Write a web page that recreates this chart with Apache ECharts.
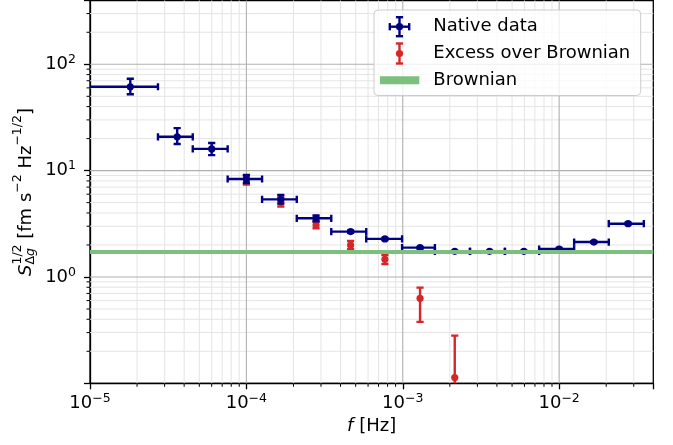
<!DOCTYPE html>
<html>
<head>
<meta charset="utf-8">
<script src="https://cdn.jsdelivr.net/npm/echarts@6/dist/echarts.min.js"></script>
<style>
  html, body { margin: 0; padding: 0; background: #fff; }
  #chart { width: 673px; height: 445px; }
</style>
</head>
<body>
<div id="chart"></div>
<script>
// Frequency bins (Hz): centre, lower edge, upper edge
const freq    = [1.81e-5, 3.61e-5, 6.0e-5, 1.0e-4, 1.66e-4, 2.79e-4, 4.64e-4, 7.69e-4, 1.29e-3, 2.15e-3, 3.59e-3, 5.95e-3, 1.0e-2, 1.667e-2, 2.76e-2];
const binLow  = [0.6e-5, 2.72e-5, 4.54e-5, 7.59e-5, 1.26e-4, 2.10e-4, 3.49e-4, 5.84e-4, 9.9e-4, 1.605e-3, 2.69e-3, 4.50e-3, 7.45e-3, 1.247e-2, 2.077e-2];
const binHigh = [2.72e-5, 4.54e-5, 7.59e-5, 1.26e-4, 2.10e-4, 3.49e-4, 5.84e-4, 9.9e-4, 1.605e-3, 2.69e-3, 4.50e-3, 7.45e-3, 1.247e-2, 2.077e-2, 3.48e-2];

// Native ASD (fm s^-2 Hz^-1/2) with lower / upper error limits
const native     = [61.5, 20.8, 16.0, 8.34, 5.37, 3.56, 2.67, 2.28, 1.886, 1.744, 1.744, 1.744, 1.833, 2.13, 3.17];
const nativeLow  = [52.2, 17.8, 14.0, 7.64, 4.89, 3.34, 2.60, 2.23, 1.85, 1.72, 1.72, 1.72, 1.80, 2.09, 3.11];
const nativeHigh = [73.1, 25.1, 18.2, 9.10, 5.90, 3.79, 2.74, 2.33, 1.92, 1.77, 1.77, 1.77, 1.87, 2.17, 3.23];

// Excess over the Brownian floor
const excessFreq = [1.0e-4, 1.66e-4, 2.79e-4, 4.64e-4, 7.69e-4, 1.29e-3, 2.15e-3];
const excess     = [8.16, 5.08, 3.08, 1.99, 1.467, 0.630, 0.1131];
const excessLow  = [7.40, 4.60, 2.87, 1.82, 1.325, 0.378, 0.05];
const excessHigh = [8.90, 5.60, 3.31, 2.18, 1.61, 0.793, 0.2807];

// Brownian noise level
const brownian = 1.744;

// Decade exponents that carry tick labels
const xTickExps = [-5, -4, -3, -2];
const yTickExps = [0, 1, 2];

const X_MIN = 1e-5, X_MAX = 0.04, Y_MIN = 0.1, Y_MAX = 398;

const NAVY = '#000080';
const RED = '#d62728';
const GREEN = '#7dbf7d';
const FONT = '"DejaVu Sans", sans-serif';

// Log grid positions: majors at decades, minors at 2..9 x decade
function logGrid(lo, hi) {
  const major = [], minor = [];
  for (let e = Math.floor(Math.log10(lo)); e <= Math.ceil(Math.log10(hi)); e++) {
    for (let m = 1; m <= 9; m++) {
      const v = m * Math.pow(10, e);
      if (v <= lo * 1.0001 || v >= hi * 0.9999) continue;
      (m === 1 ? major : minor).push(v);
    }
  }
  return { major, minor };
}
const xg = logGrid(X_MIN, X_MAX);
const yg = logGrid(Y_MIN, Y_MAX);

function expLabel(allowed) {
  return function (v) {
    const l = Math.log10(v);
    const e = Math.round(l);
    if (Math.abs(l - e) > 1e-6 || allowed.indexOf(e) < 0) return '';
    return '{b|10}{s|' + (e < 0 ? '\u2212' + (-e) : String(e)) + '}';
  };
}
const labelRich = {
  b: { fontSize: 18, lineHeight: 22, fontFamily: FONT, color: '#000' },
  s: { fontSize: 12.5, lineHeight: 14, verticalAlign: 'top', fontFamily: FONT, color: '#000' }
};

// Grid lines and minor ticks through the axis scales
function gridRender(params, api) {
  const cs = params.coordSys;
  const children = [];
  const minorStyle = { stroke: '#e4e4e4', lineWidth: 1 };
  const majorStyle = { stroke: '#b0b0b0', lineWidth: 1.1 };
  const tickStyle = { stroke: '#000', lineWidth: 1 };
  xg.minor.forEach(v => {
    const x = api.coord([v, 1])[0];
    children.push({ type: 'line', shape: { x1: x, y1: cs.y, x2: x, y2: cs.y + cs.height }, style: minorStyle });
    children.push({ type: 'line', shape: { x1: x, y1: cs.y + cs.height, x2: x, y2: cs.y + cs.height + 3.5 }, style: tickStyle });
  });
  yg.minor.forEach(v => {
    const y = api.coord([1e-4, v])[1];
    children.push({ type: 'line', shape: { x1: cs.x, y1: y, x2: cs.x + cs.width, y2: y }, style: minorStyle });
    children.push({ type: 'line', shape: { x1: cs.x - 3.5, y1: y, x2: cs.x, y2: y }, style: tickStyle });
  });
  xg.major.forEach(v => {
    const x = api.coord([v, 1])[0];
    children.push({ type: 'line', shape: { x1: x, y1: cs.y, x2: x, y2: cs.y + cs.height }, style: majorStyle });
  });
  yg.major.forEach(v => {
    const y = api.coord([1e-4, v])[1];
    children.push({ type: 'line', shape: { x1: cs.x, y1: y, x2: cs.x + cs.width, y2: y }, style: majorStyle });
  });
  return { type: 'group', children };
}

const CAP = 3.6;
const LW = 2.4;
const MR = 3.6;
function nativeRender(params, api) {
  const f = api.value(0), v = api.value(1);
  const c = api.coord([f, v]);
  const l = api.coord([api.value(2), v])[0];
  const r = api.coord([api.value(3), v])[0];
  const b = api.coord([f, api.value(4)])[1];
  const t = api.coord([f, api.value(5)])[1];
  const st = { stroke: NAVY, lineWidth: LW };
  return {
    type: 'group',
    children: [
      { type: 'line', shape: { x1: l, y1: c[1], x2: r, y2: c[1] }, style: st },
      { type: 'line', shape: { x1: l, y1: c[1] - CAP, x2: l, y2: c[1] + CAP }, style: st },
      { type: 'line', shape: { x1: r, y1: c[1] - CAP, x2: r, y2: c[1] + CAP }, style: st },
      { type: 'line', shape: { x1: c[0], y1: t, x2: c[0], y2: b }, style: st },
      { type: 'line', shape: { x1: c[0] - CAP, y1: t, x2: c[0] + CAP, y2: t }, style: st },
      { type: 'line', shape: { x1: c[0] - CAP, y1: b, x2: c[0] + CAP, y2: b }, style: st },
      { type: 'circle', shape: { cx: c[0], cy: c[1], r: MR }, style: { fill: NAVY } }
    ]
  };
}
function excessRender(params, api) {
  const f = api.value(0), v = api.value(1);
  const c = api.coord([f, v]);
  const b = api.coord([f, api.value(2)])[1];
  const t = api.coord([f, api.value(3)])[1];
  const st = { stroke: RED, lineWidth: LW };
  return {
    type: 'group',
    children: [
      { type: 'line', shape: { x1: c[0], y1: t, x2: c[0], y2: b }, style: st },
      { type: 'line', shape: { x1: c[0] - CAP, y1: t, x2: c[0] + CAP, y2: t }, style: st },
      { type: 'line', shape: { x1: c[0] - CAP, y1: b, x2: c[0] + CAP, y2: b }, style: st },
      { type: 'circle', shape: { cx: c[0], cy: c[1], r: MR }, style: { fill: RED } }
    ]
  };
}

// Rotated y-axis title with stacked sub/superscripts
const mctx = document.createElement('canvas').getContext('2d');
function tw(text, font) { mctx.font = font; return mctx.measureText(text).width; }
function fontOf(size, italic) { return (italic ? 'italic ' : '') + size + 'px ' + FONT; }
function buildYTitle() {
  const MAIN = 18, SCR = 12.5, SUP = -8, SUB = 5;
  const runs = [];
  let x = 0;
  function put(text, size, italic, dy, advance) {
    const font = fontOf(size, italic);
    runs.push({ text, font, x, dy });
    const w = tw(text, font);
    if (advance) x += w;
    return w;
  }
  put('S', MAIN, true, 0, true);
  const x0 = x;
  const wSup = put('1/2', SCR, false, SUP, false);
  const wD = put('\u0394', SCR, false, SUB, true);
  const wg = put('g', SCR, true, SUB, true);
  x = x0 + Math.max(wSup, wD + wg);
  put(' [fm s', MAIN, false, 0, true);
  put('\u22122', SCR, false, SUP, true);
  put(' Hz', MAIN, false, 0, true);
  put('\u22121/2', SCR, false, SUP, true);
  put(']', MAIN, false, 0, true);
  const W = x;
  return {
    type: 'group',
    x: 26, y: 192,
    rotation: Math.PI / 2,
    children: runs.map(r => ({
      type: 'text',
      style: { text: r.text, x: r.x - W / 2, y: r.dy, font: r.font, fill: '#000', align: 'left', verticalAlign: 'middle' }
    }))
  };
}

// Legend box
function buildLegend() {
  const L = 374, T = 10, W = 266.7, H = 85.5;
  const ix = 399.5, tx = 433.3;
  const rows = [26.7, 53.5, 80.3];
  const z = 50;
  const nst = { stroke: NAVY, lineWidth: LW };
  const rst = { stroke: RED, lineWidth: LW };
  const els = [
    { type: 'rect', z, shape: { x: L, y: T, width: W, height: H, r: 4 }, style: { fill: 'rgba(255,255,255,0.8)', stroke: '#cccccc', lineWidth: 1 } },
    // native icon
    { type: 'line', z, shape: { x1: ix - 9.7, y1: rows[0], x2: ix + 9.7, y2: rows[0] }, style: nst },
    { type: 'line', z, shape: { x1: ix - 9.7, y1: rows[0] - CAP, x2: ix - 9.7, y2: rows[0] + CAP }, style: nst },
    { type: 'line', z, shape: { x1: ix + 9.7, y1: rows[0] - CAP, x2: ix + 9.7, y2: rows[0] + CAP }, style: nst },
    { type: 'line', z, shape: { x1: ix, y1: rows[0] - 9.5, x2: ix, y2: rows[0] + 9.5 }, style: nst },
    { type: 'line', z, shape: { x1: ix - CAP, y1: rows[0] - 9.5, x2: ix + CAP, y2: rows[0] - 9.5 }, style: nst },
    { type: 'line', z, shape: { x1: ix - CAP, y1: rows[0] + 9.5, x2: ix + CAP, y2: rows[0] + 9.5 }, style: nst },
    { type: 'circle', z, shape: { cx: ix, cy: rows[0], r: MR }, style: { fill: NAVY } },
    // excess icon
    { type: 'line', z, shape: { x1: ix, y1: rows[1] - 10, x2: ix, y2: rows[1] + 10 }, style: rst },
    { type: 'line', z, shape: { x1: ix - CAP, y1: rows[1] - 10, x2: ix + CAP, y2: rows[1] - 10 }, style: rst },
    { type: 'line', z, shape: { x1: ix - CAP, y1: rows[1] + 10, x2: ix + CAP, y2: rows[1] + 10 }, style: rst },
    { type: 'circle', z, shape: { cx: ix, cy: rows[1], r: MR }, style: { fill: RED } },
    // brownian icon
    { type: 'rect', z, shape: { x: 380, y: rows[2] - 4, width: 39.3, height: 8 }, style: { fill: GREEN } }
  ];
  ['Native data', 'Excess over Brownian', 'Brownian'].forEach((t, i) => {
    els.push({ type: 'text', z, style: { text: t, x: tx, y: rows[i], font: fontOf(18, false), fill: '#000', align: 'left', verticalAlign: 'middle' } });
  });
  return els;
}

const chart = echarts.init(document.getElementById('chart'), null, { renderer: 'canvas' });

const axisCommon = {
  type: 'log',
  logBase: 10,
  axisLine: { show: true, lineStyle: { color: '#000', width: 1.3 } },
  axisTick: { show: true, inside: false, length: 6, lineStyle: { color: '#000', width: 1.3 } },
  splitLine: { show: false },
  minorTick: { show: false },
  minorSplitLine: { show: false }
};

chart.setOption({
  animation: false,
  backgroundColor: '#fff',
  grid: {
    left: 90, right: 19.7, top: 0.5, bottom: 61.7,
    show: true, borderColor: '#000', borderWidth: 1.3, backgroundColor: 'transparent',
    containLabel: false, outerBoundsMode: 'none'
  },
  xAxis: Object.assign({}, axisCommon, {
    min: X_MIN, max: X_MAX,
    axisLabel: { formatter: expLabel(xTickExps), margin: 9, rich: labelRich, showMinLabel: true, showMaxLabel: true },
    name: '{i|f} [Hz]',
    nameLocation: 'middle',
    nameGap: 34,
    nameTextStyle: { fontSize: 18, fontFamily: FONT, color: '#000', rich: { i: { fontStyle: 'italic', fontSize: 18, fontFamily: FONT, color: '#000' } } }
  }),
  yAxis: Object.assign({}, axisCommon, {
    min: Y_MIN, max: Y_MAX,
    axisLabel: { formatter: expLabel(yTickExps), margin: 14, rich: labelRich, showMinLabel: true, showMaxLabel: true }
  }),
  graphic: [buildYTitle()].concat(buildLegend()),
  series: [
    {
      name: 'grid', type: 'custom', silent: true, z: 1, clip: false,
      renderItem: gridRender,
      data: [[1e-4, 1]]
    },
    {
      name: 'Brownian', type: 'line', z: 2, data: [],
      markLine: {
        silent: true, symbol: 'none', label: { show: false },
        lineStyle: { color: GREEN, width: 4, type: 'solid' },
        data: [{ yAxis: brownian }]
      }
    },
    {
      name: 'Excess over Brownian', type: 'custom', z: 3, clip: true, silent: true,
      renderItem: excessRender,
      data: excessFreq.map((f, i) => [f, excess[i], excessLow[i], excessHigh[i]])
    },
    {
      name: 'Native data', type: 'custom', z: 4, clip: true, silent: true,
      renderItem: nativeRender,
      data: freq.map((f, i) => [f, native[i], binLow[i], binHigh[i], nativeLow[i], nativeHigh[i]])
    }
  ]
});
</script>
</body>
</html>
